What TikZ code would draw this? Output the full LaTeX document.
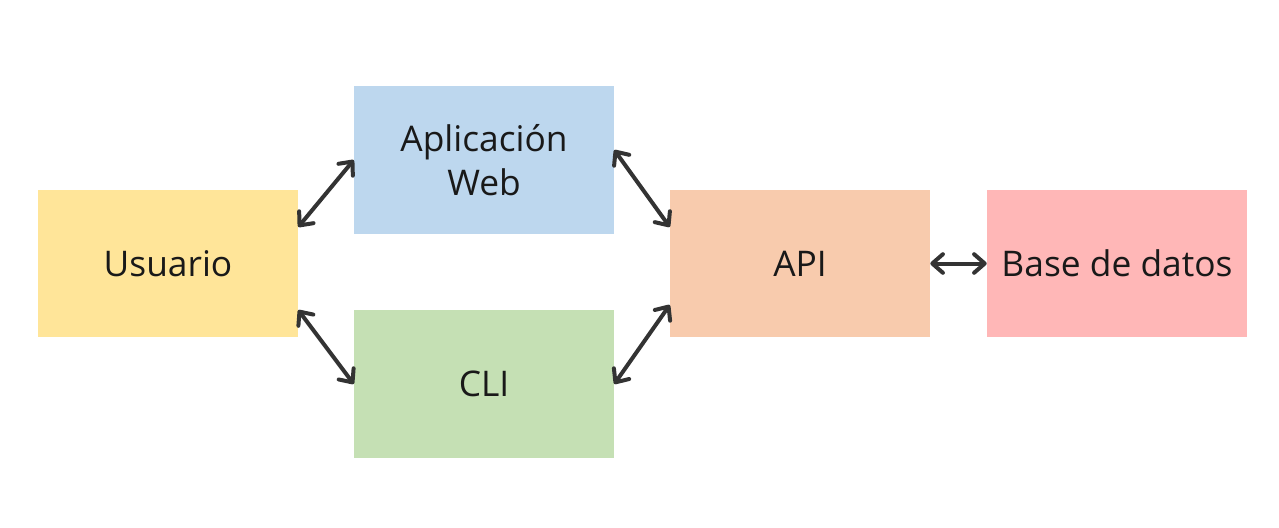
\documentclass[tikz,border=0pt]{standalone}
\usepackage{fontspec}
\setmainfont{Open Sans}
\usepackage{xcolor}
\usetikzlibrary{arrows.meta}
\definecolor{usercol}{HTML}{FFE599}
\definecolor{webcol}{HTML}{BDD7EE}
\definecolor{clicol}{HTML}{C5E0B4}
\definecolor{apicol}{HTML}{F8CBAD}
\definecolor{dbcol}{HTML}{FFB7B7}
\definecolor{linkcol}{HTML}{333333}
\tikzset{
  box/.style={minimum width=195pt,minimum height=110.5pt,inner sep=0pt,
    align=center,text=black!90,font=\fontsize{26.5}{33}\selectfont},
  link/.style={draw=linkcol,line width=3pt,line cap=round,
    {Straight Barb[round,length=8pt,width=14pt]}-{Straight Barb[round,length=8pt,width=14pt]}}
}
\begin{document}
\begin{tikzpicture}[x=0.75pt,y=-0.75pt]
    \useasboundingbox (0,0) rectangle (1279,528);
    \node[box,fill=usercol] (usuario) at (168,263.5) {Usuario};
    \node[box,fill=webcol] (web) at (484,160) {Aplicación\\Web};
    \node[box,fill=clicol] (cli) at (484,384) {CLI};
    \node[box,fill=apicol] (api) at (800,263.5) {API};
    \node[box,fill=dbcol] (db) at (1117,263.5) {Base de datos};
    \draw[link] ([yshift=27.4pt]usuario.east) -- (web.west);
    \draw[link] ([yshift=-34.9pt]usuario.east) -- (cli.west);
    \draw[link] ([yshift=7.5pt]web.east) -- ([yshift=27.4pt]api.west);
    \draw[link] (cli.east) -- ([yshift=-31.1pt]api.west);
    \draw[link] (api) -- (db);
\end{tikzpicture}
\end{document}
